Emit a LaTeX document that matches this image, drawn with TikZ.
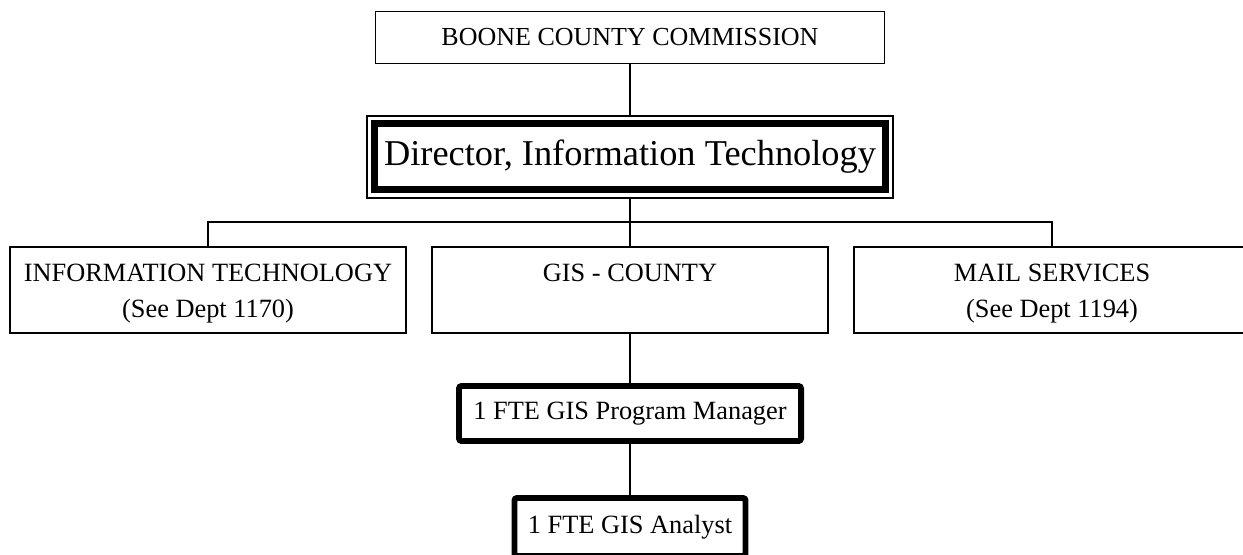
\documentclass[tikz,border=0pt]{standalone}
\usepackage{fontspec}
\setmainfont{Liberation Serif}
\usetikzlibrary{positioning, calc}
\newcommand{\deptlines}[2]{\rule{0pt}{15pt}#1\\#2\rule[-4pt]{0pt}{4pt}}

\begin{document}
\begin{tikzpicture}[
  x=0.02cm, y=-0.02cm,
  orgbox/.style={
    draw, line width=1.1pt, fill=white, inner sep=0pt,
    font=\fontsize{14.8}{17}\selectfont, align=center
  },
  deptbox/.style={
    orgbox, minimum width=396*0.02cm, minimum height=86*0.02cm,
    font=\fontsize{15}{20.5}\selectfont
  },
  staffbox/.style={
    orgbox, line width=3.4pt, rounded corners=1.5pt,
    font=\fontsize{15}{18}\selectfont
  },
  dirbox/.style={
    orgbox, line width=3.6pt, minimum width=511*0.02cm,
    minimum height=66*0.02cm, font=\fontsize{20.7}{25}\selectfont
  },
  link/.style={line width=1.1pt}
]
  \clip (0,0) rectangle (1243,554);
  % Commission and director
  \node[orgbox, minimum width=509*0.02cm, minimum height=52*0.02cm] (comm) at (630,37.5) {BOONE COUNTY COMMISSION};
  \node[orgbox, minimum width=526*0.02cm, minimum height=82*0.02cm] (dirframe) at (630,157) {};
  \node[dirbox] (dir) at (630,156.5) {Director, Information Technology};
  % Departments
  \node[deptbox] (it) at (208,290) {\deptlines{INFORMATION TECHNOLOGY}{(See Dept 1170)}};
  \node[deptbox] (gis) at (630,290) {\deptlines{GIS - COUNTY}{~}};
  \node[deptbox] (mail) at (1052,290) {\deptlines{MAIL SERVICES}{(See Dept 1194)}};
  % Staff
  \node[staffbox, minimum width=342*0.02cm, minimum height=55*0.02cm] (pm) at (630,413.5) {1 FTE GIS Program Manager};
  \node[staffbox, minimum width=231*0.02cm, minimum height=58*0.02cm] (an) at (630,527) {1 FTE GIS Analyst};
  \coordinate (bus) at (630,222);
  % Lines
  \draw[link] (comm.south) -- (dirframe.north);
  \draw[link] (dirframe.south) -- (gis.north);
  \draw[link] (it.north) |- (bus) -| (mail.north);
  \draw[link] (gis.south) -- (pm.north);
  \draw[link] (pm.south) -- (an.north);
\end{tikzpicture}
\end{document}
